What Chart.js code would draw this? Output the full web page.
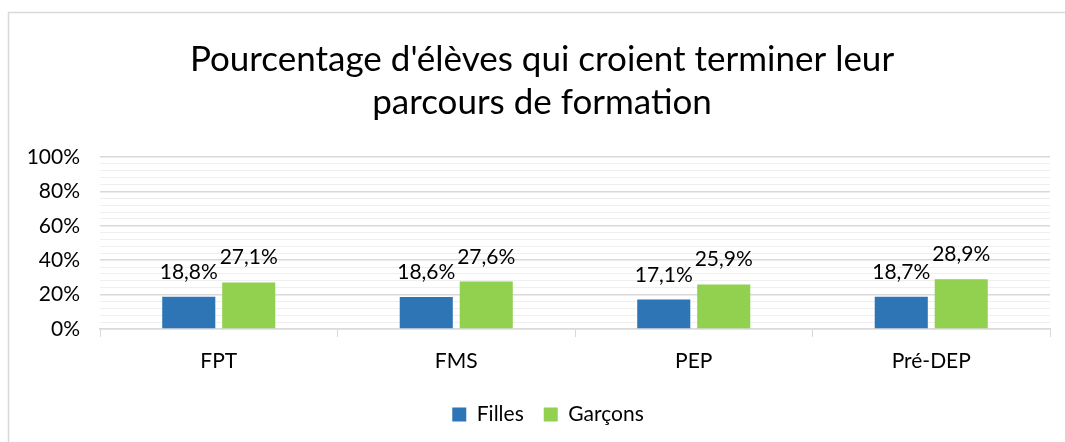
<!DOCTYPE html>
<html>
<head>
<meta charset="utf-8">
<script src="https://cdn.jsdelivr.net/npm/chart.js@4"></script>
<style>
  body { margin: 0; background: #fff; }
  #wrap { width: 1065px; height: 442px; }
</style>
</head>
<body>
<div id="wrap"><canvas id="chart" width="1065" height="442"></canvas></div>
<script>
const categories = ["FPT", "FMS", "PEP", "Pré-DEP"];
const filles = [18.8, 18.6, 17.1, 18.7];
const garcons = [27.1, 27.6, 25.9, 28.9];
const titleLines = ["Pourcentage d'élèves qui croient terminer leur", "parcours de formation"];

const FONT = "Lato, 'Open Sans', sans-serif";

// frame around the whole chart
const framePlugin = {
  id: "frame",
  beforeDraw(chart) {
    const c = chart.ctx;
    c.save();
    c.fillStyle = "#fff";
    c.fillRect(0, 0, chart.width, chart.height);
    c.strokeStyle = "#d9d9d9";
    c.lineWidth = 1.5;
    c.strokeRect(8.5, 12.5, chart.width + 20, chart.height + 20);
    c.restore();
  },
  // title and legend sit centred on the whole frame, not on the canvas
  afterLayout(chart) {
    const t = chart.titleBlock, l = chart.legend;
    if (t) { t.left += 17; t.right += 17; }
    if (l) { l.left += 23; l.right += 23; }
  }
};

// value labels above bars
const labelPlugin = {
  id: "valueLabels",
  afterDatasetsDraw(chart) {
    const c = chart.ctx;
    c.save();
    c.font = "21px " + FONT;
    c.fillStyle = "#000";
    c.textAlign = "center";
    c.textBaseline = "alphabetic";
    chart.data.datasets.forEach((ds, i) => {
      chart.getDatasetMeta(i).data.forEach((bar, j) => {
        const txt = ds.data[j].toFixed(1).replace(".", ",") + "%";
        c.fillText(txt, bar.x, bar.y - 18);
      });
    });
    c.restore();
  }
};

new Chart(document.getElementById("chart"), {
  type: "bar",
  data: {
    labels: categories,
    datasets: [
      { label: "Filles", data: filles, backgroundColor: "#2e75b6", categoryPercentage: 0.505, barPercentage: 0.885 },
      { label: "Garçons", data: garcons, backgroundColor: "#92d050", categoryPercentage: 0.505, barPercentage: 0.885 }
    ]
  },
  options: {
    responsive: false,
    animation: false,
    layout: { padding: { left: 0, right: 15, top: 20, bottom: 7 } },
    plugins: {
      title: {
        display: true,
        text: titleLines,
        color: "#000",
        font: { family: FONT, size: 35, weight: "normal", lineHeight: 1.23 },
        padding: { top: 18, bottom: 33 }
      },
      legend: {
        position: "bottom",
        labels: {
          color: "#000",
          font: { family: FONT, size: 21 },
          boxWidth: 14,
          boxHeight: 14,
          padding: 20
        }
      },
      tooltip: { enabled: false }
    },
    scales: {
      x: {
        grid: {
          display: true,
          drawOnChartArea: false,
          drawTicks: true,
          tickLength: 8,
          offset: true,
          color: "#d9d9d9"
        },
        border: { color: "#d9d9d9", width: 1.5 },
        ticks: { color: "#000", font: { family: FONT, size: 21 }, padding: 12 },
        afterFit(s) { s.height = 55; }
      },
      y: {
        min: 0,
        max: 100,
        border: { display: false },
        grid: {
          drawTicks: false,
          color: ctx => (ctx.tick && ctx.tick.value % 20 === 0) ? "#d9d9d9" : "#efefef",
          lineWidth: ctx => (ctx.tick && ctx.tick.value % 20 === 0) ? 1.5 : 1
        },
        ticks: {
          stepSize: 4,
          autoSkip: false,
          color: "#000",
          font: { family: FONT, size: 21 },
          padding: 20,
          callback: v => (v % 20 === 0 ? v + "%" : "")
        },
        afterFit(s) { s.width = 100; }
      }
    }
  },
  plugins: [framePlugin, labelPlugin]
});
</script>
</body>
</html>
